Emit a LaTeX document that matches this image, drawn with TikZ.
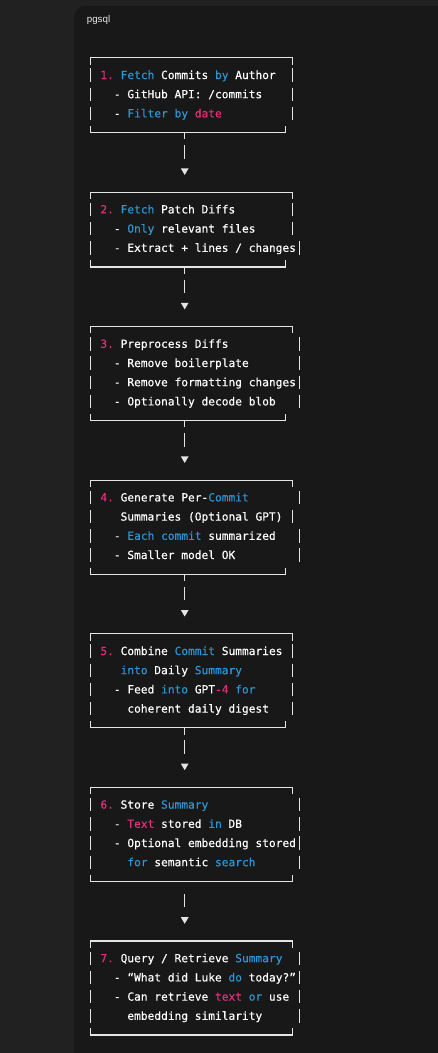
\documentclass[tikz,border=0pt]{standalone}
\usepackage{fontspec}
\usetikzlibrary{arrows.meta}
\newfontfamily\monof[FakeBold=0.35]{DejaVu Sans Mono}
\newfontfamily\uif{Liberation Sans}
\definecolor{outerbg}{HTML}{212121}
\definecolor{panelbg}{HTML}{181818}
\definecolor{kwc}{HTML}{2E95D3}
\definecolor{numc}{HTML}{DF3079}
\definecolor{linec}{HTML}{E4E4E4}
\definecolor{labelc}{HTML}{E8E8E8}
\newcommand\kw[1]{{\color{kwc}#1}}
\newcommand\nm[1]{{\color{numc}#1}}
\tikzset{
  bline/.style={draw=linec, line width=1.2pt},
  txt/.style={anchor=base west, inner sep=0pt, outer sep=0pt, text=white,
    font=\monof\fontsize{11.2}{13}\selectfont\frenchspacing},
  conn/.style={draw=linec, line width=1.2pt, -{Triangle[width=7.4pt,length=6.6pt]},
    dash pattern=on 6.7pt off 5.8pt on 13.4pt off 40pt},
  connb/.style={conn, dash pattern=on 13.4pt off 30pt, dash phase=30.9pt},
}
% frame: top row, bottom row, top-right col, bottom-right col, right cols of text rows
\newcommand\BoxFrame[5]{%
  \pgfmathsetmacro\fyt{55.8+19.2*#1+2}%
  \pgfmathsetmacro\fyb{55.8+19.2*#2}%
  \pgfmathsetmacro\fxt{90.3+6.74*#3}%
  \pgfmathsetmacro\fxb{90.3+6.74*#4}%
  \draw[bline] (90.3,\fyt+6.7) -- (90.3,\fyt) -- (\fxt,\fyt) -- (\fxt,\fyt+6.7);
  \draw[bline] (90.3,\fyb-6.7) -- (90.3,\fyb) -- (\fxb,\fyb) -- (\fxb,\fyb-6.7);
  \foreach \rc [count=\ri] in {#5} {
    \pgfmathsetmacro\fyy{55.8+19.2*(#1+\ri)}
    \pgfmathsetmacro\fxx{90.3+6.74*\rc}
    \draw[bline] (90.3,\fyy-6.7) -- (90.3,\fyy+6.7);
    \draw[bline] (\fxx,\fyy-6.7) -- (\fxx,\fyy+6.7);
  }%
}
\newcommand\mkline[4]{\node[txt] (#1) at ({86.93+6.74*#2},{55.8+19.2*#3+4}) {#4};}
\begin{document}
\begin{tikzpicture}[x=1pt,y=-1pt]
\useasboundingbox (0,0) rectangle (438,1053);
\clip (0,0) rectangle (438,1053);
\fill[outerbg] (0,0) rectangle (438,1053);
\fill[panelbg, rounded corners=11pt] (74,1080) -- (74,6) -- (470,6) -- (470,1080) -- cycle;
\node[anchor=base west, inner sep=0pt, text=labelc, font=\uif\fontsize{9.75}{11}\selectfont] (lang) at (86.7,22) {pgsql};

% frames
\BoxFrame{0}{4}{30}{29}{30,30,30}
\BoxFrame{7}{11}{30}{29}{30,30,31}
\BoxFrame{14}{19}{30}{29}{31,31,31,31}
\BoxFrame{22}{27}{30}{29}{31,30,31,31}
\BoxFrame{30}{35}{30}{29}{30,30,30,30}
\BoxFrame{38}{43}{30}{30}{31,31,31,31}
\BoxFrame{46}{51}{30}{30}{31,31,31,31}

% box 1
\mkline{b1a}{2}{1}{\nm{1.} \kw{Fetch} Commits \kw{by} Author}
\mkline{b1b}{4}{2}{- GitHub API: /commits}
\mkline{b1c}{4}{3}{- \kw{Filter by} \nm{date}}
% box 2
\mkline{b2a}{2}{8}{\nm{2.} \kw{Fetch} Patch Diffs}
\mkline{b2b}{4}{9}{- \kw{Only} relevant files}
\mkline{b2c}{4}{10}{- Extract + lines / changes}
% box 3
\mkline{b3a}{2}{15}{\nm{3.} Preprocess Diffs}
\mkline{b3b}{4}{16}{- Remove boilerplate}
\mkline{b3c}{4}{17}{- Remove formatting changes}
\mkline{b3d}{4}{18}{- Optionally decode blob}
% box 4
\mkline{b4a}{2}{23}{\nm{4.} Generate Per-\kw{Commit}}
\mkline{b4b}{5}{24}{Summaries (Optional GPT)}
\mkline{b4c}{4}{25}{- \kw{Each commit} summarized}
\mkline{b4d}{4}{26}{- Smaller model OK}
% box 5
\mkline{b5a}{2}{31}{\nm{5.} Combine \kw{Commit} Summaries}
\mkline{b5b}{5}{32}{\kw{into} Daily \kw{Summary}}
\mkline{b5c}{4}{33}{- Feed \kw{into} GPT\nm{-4} \kw{for}}
\mkline{b5d}{6}{34}{coherent daily digest}
% box 6
\mkline{b6a}{2}{39}{\nm{6.} Store \kw{Summary}}
\mkline{b6b}{4}{40}{- \nm{Text} stored \kw{in} DB}
\mkline{b6c}{4}{41}{- Optional embedding stored}
\mkline{b6d}{6}{42}{\kw{for} semantic \kw{search}}
% box 7
\mkline{b7a}{2}{47}{\nm{7.} Query / Retrieve \kw{Summary}}
\mkline{b7b}{4}{48}{- “What did Luke \kw{do} today?”}
\mkline{b7c}{4}{49}{- Can retrieve \nm{text} \kw{or} use}
\mkline{b7d}{6}{50}{embedding similarity}

% connector ends
\coordinate (out1) at (184.7,{55.8+19.2*4});
\coordinate (in2)  at (184.7,{55.8+19.2*6+4});
\coordinate (out2) at (184.7,{55.8+19.2*11});
\coordinate (in3)  at (184.7,{55.8+19.2*13+4});
\coordinate (out3) at (184.7,{55.8+19.2*19});
\coordinate (in4)  at (184.7,{55.8+19.2*21+4});
\coordinate (out4) at (184.7,{55.8+19.2*27});
\coordinate (in5)  at (184.7,{55.8+19.2*29+4});
\coordinate (out5) at (184.7,{55.8+19.2*35});
\coordinate (in6)  at (184.7,{55.8+19.2*37+4});
\coordinate (out6) at (184.7,{55.8+19.2*43});
\coordinate (in7)  at (184.7,{55.8+19.2*45+4});

\draw[conn] (out1) -- (in2);
\draw[conn] (out2) -- (in3);
\draw[conn] (out3) -- (in4);
\draw[conn] (out4) -- (in5);
\draw[conn] (out5) -- (in6);
\draw[connb] (out6) -- (in7);
\end{tikzpicture}
\end{document}
